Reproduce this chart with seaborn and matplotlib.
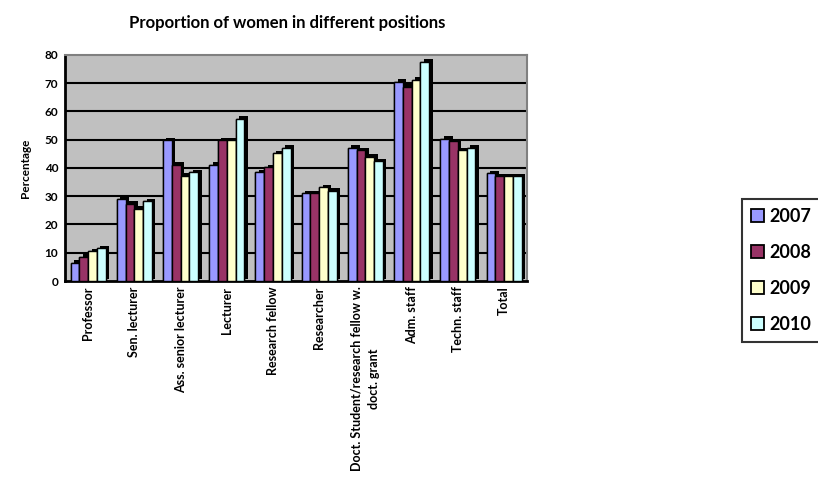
import matplotlib
matplotlib.use("Agg")
import matplotlib.pyplot as plt
import matplotlib.patheffects as pe
from matplotlib.patches import Patch
import seaborn as sns
import pandas as pd
import numpy as np

categories = ["Professor", "Sen. lecturer", "Ass. senior lecturer", "Lecturer",
              "Research fellow", "Researcher",
              "Doct. Student/research fellow w.\ndoct. grant",
              "Adm. staff", "Techn. staff", "Total"]
years = ["2007", "2008", "2009", "2010"]
v2007 = [6.5, 29.0, 49.8, 41.2, 38.5, 31.0, 47.2, 70.5, 50.4, 38.2]
v2008 = [8.5, 27.3, 41.2, 49.8, 40.3, 31.0, 46.2, 68.7, 49.5, 37.0]
v2009 = [10.5, 25.5, 37.3, 49.8, 45.3, 33.2, 44.0, 71.3, 46.2, 37.0]
v2010 = [11.6, 28.2, 38.5, 57.5, 47.2, 32.0, 42.4, 77.6, 47.2, 37.0]
colors = ["#9999FF", "#993366", "#FFFFCC", "#CCFFFF"]

rows = []
for y, vals in zip(years, [v2007, v2008, v2009, v2010]):
    for c, v in zip(categories, vals):
        rows.append({"Position": c, "Year": y, "Percentage": v})
df = pd.DataFrame(rows)

sns.set_style("white")
plt.rcParams["font.family"] = ["Lato", "DejaVu Sans"]
plt.rcParams["text.color"] = "black"
plt.rcParams["xtick.color"] = "black"
plt.rcParams["ytick.color"] = "black"
plt.rcParams["axes.labelcolor"] = "black"

fig = plt.figure(figsize=(8.18, 4.82), dpi=100)
ax = fig.add_axes([0.0795, 0.417, 0.565, 0.469])
ax.set_facecolor("#C0C0C0")

sns.barplot(data=df, x="Position", y="Percentage", hue="Year", order=categories,
            hue_order=years, palette=colors, edgecolor="black", linewidth=1.0,
            width=0.76, saturation=1, legend=False, ax=ax, zorder=3)

for p in ax.patches:
    p.set_path_effects([pe.withSimplePatchShadow(offset=(2.5, 1.8), shadow_rgbFace="black", alpha=1.0),
                        pe.Normal()])

ax.set_ylim(0, 80)
ax.set_yticks(np.arange(0, 81, 10))
ax.set_xlim(-0.5, len(categories) - 0.5)
for yv in range(10, 80, 10):
    ax.axhline(yv, color="black", lw=1.5, zorder=1)

ax.tick_params(axis="x", which="major", length=0, labelsize=9, pad=4)
ax.set_xticks(np.arange(-0.5, len(categories)), minor=True)
ax.tick_params(axis="x", which="minor", length=4, width=1.5, color="black", direction="out")
ax.tick_params(axis="y", length=4, width=1.5, color="black", direction="out", labelsize=8.5, pad=1)
for lab in ax.get_xticklabels():
    lab.set_rotation(90)
    lab.set_fontweight("bold")
    lab.set_va("top")
    lab.set_ha("center")
    lab.set_linespacing(1.5)
for lab in ax.get_yticklabels():
    lab.set_fontweight("bold")

ax.set_xlabel("")
ax.set_ylabel("Percentage", fontsize=8.5, fontweight="bold", labelpad=10)

for s in ["top", "right"]:
    ax.spines[s].set_color("#808080")
    ax.spines[s].set_linewidth(1.5)
ax.spines["left"].set_color("black")
ax.spines["left"].set_linewidth(2)
ax.spines["bottom"].set_color("black")
ax.spines["bottom"].set_linewidth(2)

fig.text(0.351, 0.953, "Proportion of women in different positions",
         ha="center", va="center", fontsize=12, fontweight="bold")

handles = [Patch(facecolor=c, edgecolor="black", linewidth=1.3, label=y) for c, y in zip(colors, years)]
leg = fig.legend(handles=handles, loc="upper left", bbox_to_anchor=(0.907, 0.587),
                 frameon=True, fancybox=False, edgecolor="black",
                 prop={"weight": "bold", "size": 13, "family": ["Lato", "DejaVu Sans"]},
                 labelspacing=1.05, handlelength=0.72, handleheight=0.72, handletextpad=0.3,
                 borderpad=0.5, borderaxespad=0)
leg.get_frame().set_linewidth(1.5)

fig.savefig("out.png", dpi=100)
